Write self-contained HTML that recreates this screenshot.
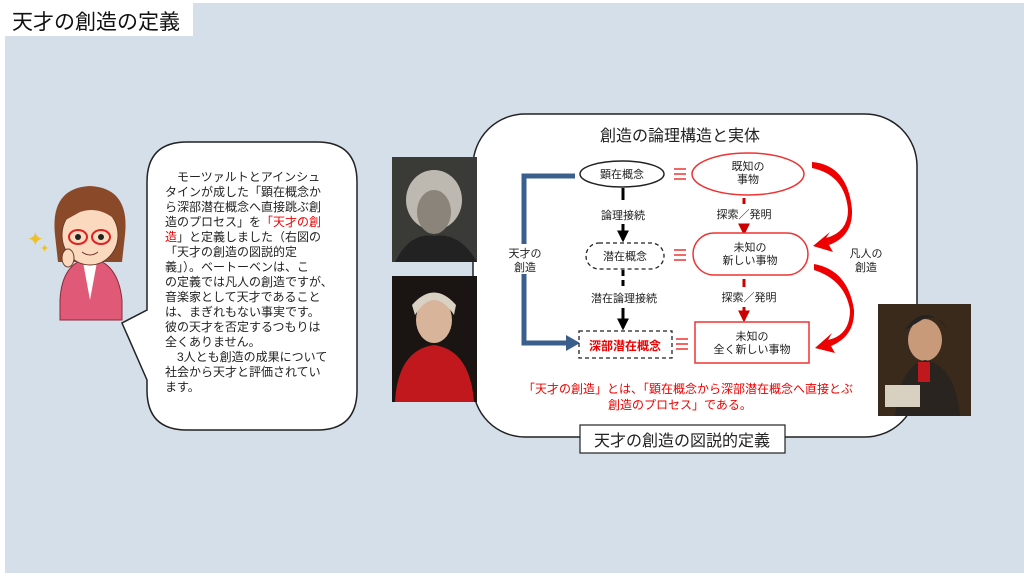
<!DOCTYPE html>
<html><head><meta charset="utf-8"><style>
body{margin:0;width:1024px;height:576px;overflow:hidden;background:#fff}
svg{display:block}
text{font-family:"Liberation Sans","Noto Sans CJK JP",sans-serif}
</style></head><body>
<svg width="1024" height="576" viewBox="0 0 1024 576">
<defs>
<marker id="ab" viewBox="0 0 10 10" refX="8" refY="5" markerWidth="4" markerHeight="4" orient="auto"><path d="M0,0L10,5L0,10z" fill="#000"/></marker>
<marker id="ar" viewBox="0 0 10 10" refX="8" refY="5" markerWidth="4" markerHeight="4" orient="auto"><path d="M0,0L10,5L0,10z" fill="#c00"/></marker>
</defs>
<rect x="5" y="3" width="1019" height="570" fill="#d4dfe9"/>
<rect x="5" y="3" width="188" height="33" fill="#fff"/>
<text x="12" y="29" font-size="21" fill="#111">天才の創造の定義</text>

<path d="M187,142 H317 Q357,142 357,182 V390 Q357,430 317,430 H187 Q147,430 147,390 V380 L122,323 L147,310 V182 Q147,142 187,142Z" fill="#fff" stroke="#222" stroke-width="1.5"/>
<g font-size="12" fill="#222">
<text x="165" y="181">　モーツァルトとアインシュ</text>
<text x="165" y="196">タインが成した「顕在概念か</text>
<text x="165" y="211">ら深部潜在概念へ直接跳ぶ創</text>
<text x="165" y="226">造のプロセス」を<tspan fill="#e00">「天才の創</tspan></text>
<text x="165" y="241"><tspan fill="#e00">造</tspan>」と定義しました（右図の</text>
<text x="165" y="256">「天才の創造の図説的定</text>
<text x="165" y="271">義」）。ベートーベンは、こ</text>
<text x="165" y="286">の定義では凡人の創造ですが、</text>
<text x="165" y="301">音楽家として天才であること</text>
<text x="165" y="316">は、まぎれもない事実です。</text>
<text x="165" y="331">彼の天才を否定するつもりは</text>
<text x="165" y="346">全くありません。</text>
<text x="165" y="361">　3人とも創造の成果について</text>
<text x="165" y="376">社会から天才と評価されてい</text>
<text x="165" y="391">ます。</text>
</g>

<g>
<path d="M60,300 Q62,262 90,258 Q118,262 122,300 L122,320 L60,320Z" fill="#e05a78" stroke="#8a2a3a"/>
<path d="M83,262 L90,300 L97,262Z" fill="#fff"/>
<path d="M55,235 Q50,188 90,186 Q130,188 125,235 L122,262 L58,262Z" fill="#8a4a2a"/>
<ellipse cx="90" cy="235" rx="28" ry="30" fill="#fbd9bf" stroke="#6a3a2a"/>
<path d="M62,222 Q70,192 92,196 Q112,198 118,222 Q100,205 80,212Z" fill="#8a4a2a"/>
<ellipse cx="78" cy="237" rx="9" ry="7" fill="none" stroke="#d22" stroke-width="2"/>
<ellipse cx="101" cy="237" rx="9" ry="7" fill="none" stroke="#d22" stroke-width="2"/>
<circle cx="78" cy="237" r="3" fill="#222"/><circle cx="101" cy="237" r="3" fill="#222"/>
<path d="M82,252 Q90,258 98,252" stroke="#6a2a2a" fill="none"/>
<ellipse cx="68" cy="258" rx="6" ry="9" fill="#fbd9bf" stroke="#6a3a2a"/>
<text x="27" y="246" font-size="20" fill="#f0c020">✦</text>
<text x="40" y="252" font-size="11" fill="#f0c020">✦</text>
</g>

<rect x="473" y="114" width="444" height="323" rx="52" fill="#fff" stroke="#222" stroke-width="1.5"/>
<text x="680" y="141" font-size="16" fill="#222" text-anchor="middle">創造の論理構造と実体</text>

<rect x="392" y="157" width="85" height="105" fill="#3a3a36"/>
<ellipse cx="434" cy="200" rx="28" ry="30" fill="#bdb9b0"/>
<ellipse cx="434" cy="212" rx="17" ry="22" fill="#8a847a"/>
<path d="M395,262 Q410,232 434,236 Q460,232 477,262Z" fill="#222"/>
<rect x="392" y="276" width="85" height="126" fill="#1a1512"/>
<ellipse cx="434" cy="320" rx="18" ry="23" fill="#d8b49a"/>
<path d="M415,315 Q434,285 454,315 L456,305 Q434,280 412,305Z" fill="#d9d2c4"/>
<path d="M395,402 Q398,350 434,345 Q470,350 474,402Z" fill="#c0181c"/>
<rect x="878" y="304" width="93" height="112" fill="#3a2a1c"/>
<ellipse cx="925" cy="340" rx="17" ry="21" fill="#c99a7a"/>
<path d="M905,330 Q925,300 948,330 Q940,315 925,318Z" fill="#222"/>
<path d="M895,416 Q900,365 925,360 Q955,365 960,416Z" fill="#2a2420"/>
<rect x="918" y="362" width="12" height="20" fill="#c0181c"/>
<rect x="885" y="385" width="35" height="22" fill="#d8d0c0"/>

<path d="M575,176 H524 V343 H568" fill="none" stroke="#3a5f8c" stroke-width="5"/>
<path d="M566,335 L580,343 L566,351Z" fill="#3a5f8c"/>
<rect x="505" y="244" width="40" height="30" fill="#fff"/>
<text x="525" y="257" font-size="11" text-anchor="middle" fill="#222">天才の</text>
<text x="525" y="271" font-size="11" text-anchor="middle" fill="#222">創造</text>

<ellipse cx="622" cy="174" rx="42" ry="13" fill="#fff" stroke="#222" stroke-width="1.5"/>
<text x="622" y="178" font-size="11" text-anchor="middle" fill="#222">顕在概念</text>
<line x1="623" y1="188" x2="623" y2="200" stroke="#000" stroke-width="3"/>
<text x="623" y="219" font-size="11" text-anchor="middle" fill="#222">論理接続</text>
<line x1="623" y1="224" x2="623" y2="240" stroke="#000" stroke-width="3" marker-end="url(#ab)"/>
<rect x="586" y="243" width="78" height="26" rx="13" fill="#fff" stroke="#222" stroke-width="1.3" stroke-dasharray="4,3"/>
<text x="625" y="260" font-size="11" text-anchor="middle" fill="#222">潜在概念</text>
<line x1="623" y1="270" x2="623" y2="290" stroke="#000" stroke-width="3" stroke-dasharray="6,4"/>
<text x="624" y="302" font-size="11" text-anchor="middle" fill="#222">潜在論理接続</text>
<line x1="623" y1="308" x2="623" y2="328" stroke="#000" stroke-width="3" marker-end="url(#ab)"/>
<rect x="579" y="331" width="93" height="27" fill="#fff" stroke="#222" stroke-width="1.3" stroke-dasharray="4,3"/>
<text x="625" y="350" font-size="12" font-weight="bold" text-anchor="middle" fill="#e00">深部潜在概念</text>

<g stroke="#e33" stroke-width="1.6">
<path d="M674,169H686M674,174H686M674,179H686"/>
<path d="M674,250H686M674,255H686M674,260H686"/>
<path d="M676,339H688M676,344H688M676,349H688"/>
</g>

<ellipse cx="748" cy="174" rx="56" ry="21" fill="#fff" stroke="#e33" stroke-width="1.5"/>
<text x="748" y="170" font-size="11" text-anchor="middle" fill="#222">既知の</text>
<text x="748" y="183" font-size="11" text-anchor="middle" fill="#222">事物</text>
<line x1="744" y1="198" x2="744" y2="204" stroke="#c00" stroke-width="3"/>
<text x="744" y="218" font-size="11" text-anchor="middle" fill="#222">探索／発明</text>
<line x1="744" y1="224" x2="744" y2="233" stroke="#c00" stroke-width="3" marker-end="url(#ar)"/>
<rect x="693" y="233" width="115" height="42" rx="21" fill="#fff" stroke="#e33" stroke-width="1.5"/>
<text x="750" y="251" font-size="11" text-anchor="middle" fill="#222">未知の</text>
<text x="750" y="264" font-size="11" text-anchor="middle" fill="#222">新しい事物</text>
<line x1="744" y1="279" x2="744" y2="287" stroke="#c00" stroke-width="3"/>
<text x="749" y="301" font-size="11" text-anchor="middle" fill="#222">探索／発明</text>
<line x1="744" y1="307" x2="744" y2="320" stroke="#c00" stroke-width="3" marker-end="url(#ar)"/>
<rect x="695" y="322" width="114" height="41" fill="#fff" stroke="#e33" stroke-width="1.5"/>
<text x="752" y="340" font-size="11" text-anchor="middle" fill="#222">未知の</text>
<text x="752" y="353" font-size="11" text-anchor="middle" fill="#222">全く新しい事物</text>

<path d="M812,168 Q845,175 848,210 Q848,232 826,238 L830,232 L813,246 L833,252 L829,245 Q853,236 852,210 Q848,165 812,162Z" fill="#e00"/>
<path d="M814,270 Q845,280 850,310 Q850,335 828,340 L832,333 L815,348 L835,353 L831,346 Q855,336 854,310 Q848,270 814,264Z" fill="#e00"/>
<text x="866" y="257" font-size="11" text-anchor="middle" fill="#222">凡人の</text>
<text x="866" y="271" font-size="11" text-anchor="middle" fill="#222">創造</text>

<text x="688" y="393" font-size="12" text-anchor="middle" fill="#e00">「天才の創造」とは、「顕在概念から深部潜在概念へ直接とぶ</text>
<text x="680" y="409" font-size="12" text-anchor="middle" fill="#e00">創造のプロセス」である。</text>

<rect x="580" y="425" width="205" height="28" fill="#fff" stroke="#222" stroke-width="1.2"/>
<text x="682" y="446" font-size="16" text-anchor="middle" fill="#222">天才の創造の図説的定義</text>
</svg>
</body></html>
